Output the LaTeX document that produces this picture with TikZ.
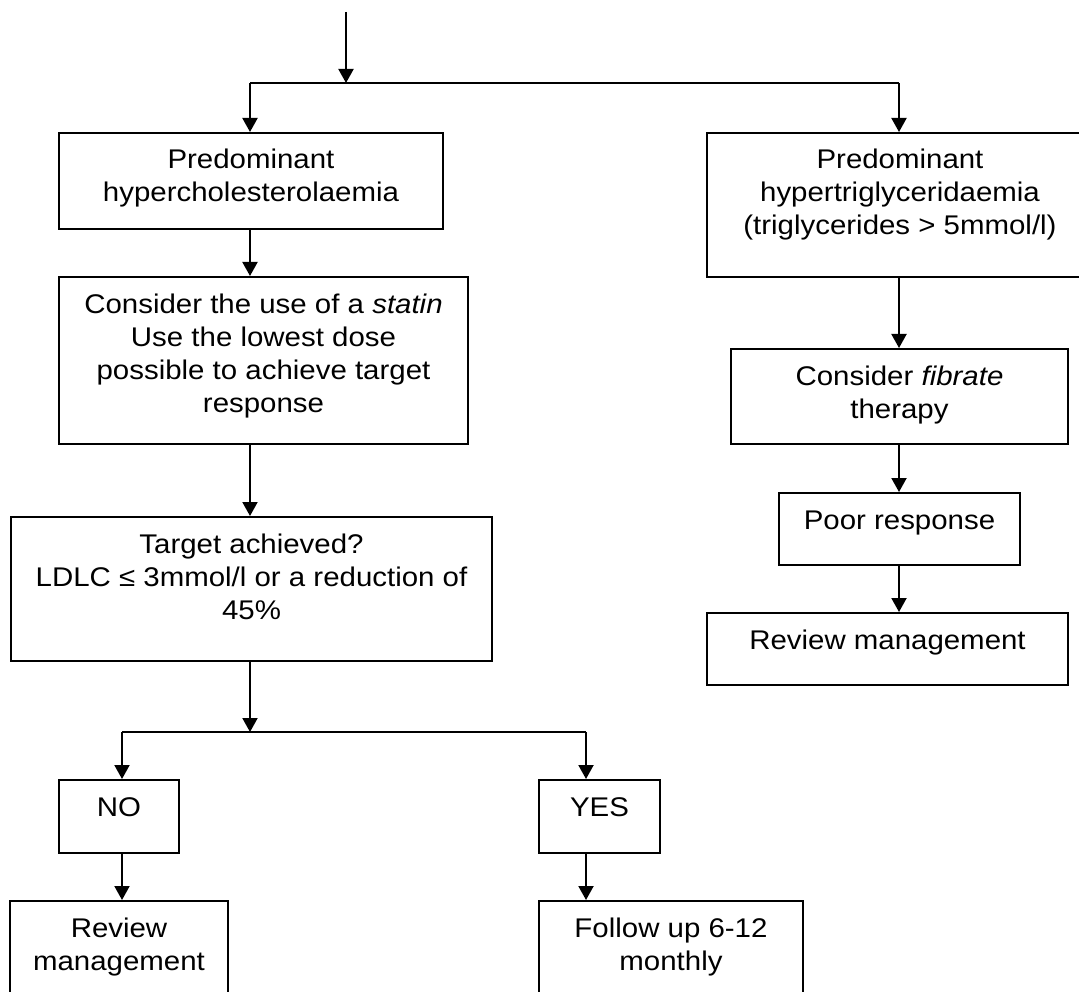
\documentclass[tikz,border=0pt]{standalone}
\usepackage{fontspec}
\setmainfont{Liberation Sans}[FakeStretch=1.09]
\usetikzlibrary{arrows.meta,calc}

\tikzset{
  box/.style={draw=black, line width=2pt, fill=white, inner sep=0pt, anchor=north west},
  % anchor=base sits on the last line of a multi-line label
  lbl/.style={inner sep=0pt, align=center, anchor=base,
              font=\fontsize{27}{33}\selectfont},
  flow/.style={line width=2pt, -{Triangle[length=14pt,width=15pt]}},
  link/.style={line width=2pt}
}

\begin{document}
\begin{tikzpicture}[x=1pt,y=-1pt]
\useasboundingbox (0,0) rectangle (1079,992);
\clip (0,0) rectangle (1079,992);

% left column
\node[box, minimum width=384, minimum height=96]  (b1) at (58,132) {};
\node[box, minimum width=409, minimum height=167] (b2) at (58,276) {};
\node[box, minimum width=481, minimum height=144] (b3) at (10,516) {};
\node[box, minimum width=120, minimum height=73]  (no) at (58,779) {};
\node[box, minimum width=121, minimum height=73]  (yes) at (538,779) {};
\node[box, minimum width=218, minimum height=110] (rl) at (9,900) {};
\node[box, minimum width=264, minimum height=110] (fu) at (538,900) {};

% right column
\node[box, minimum width=386, minimum height=144] (b4) at (706,132) {};
\node[box, minimum width=337, minimum height=95]  (b5) at (730,348) {};
\node[box, minimum width=241, minimum height=72]  (b6) at (778,492) {};
\node[box, minimum width=361, minimum height=72]  (b7) at (706,612) {};

% labels: last baseline = top + 37 + 33 per extra line
\node[lbl] (t1) at ($(b1.north)+(0,70)$) {Predominant\\hypercholesterolaemia};
\node[lbl] (t2) at ($(b2.north)+(0,136)$) {Consider the use of a \textit{statin}\\Use the lowest dose\\possible to achieve target\\response};
\node[lbl] (t3) at ($(b3.north)+(0,103)$) {Target achieved?\\LDLC ≤ 3mmol/l or a reduction of\\45\%};
\node[lbl] (tno) at ($(no.north)+(0,37)$) {NO};
\node[lbl] (tyes) at ($(yes.north)+(0,37)$) {YES};
\node[lbl] (trl) at ($(rl.north)+(0,70)$) {Review\\management};
\node[lbl] (tfu) at ($(fu.north)+(0,70)$) {Follow up 6-12\\monthly};
\node[lbl] (t4) at ($(b4.north)+(0,103)$) {Predominant\\hypertriglyceridaemia\\(triglycerides > 5mmol/l)};
\node[lbl] (t5) at ($(b5.north)+(0,70)$) {Consider \textit{fibrate}\\therapy};
\node[lbl] (t6) at ($(b6.north)+(0,37)$) {Poor response};
\node[lbl] (t7) at ($(b7.north)+(0,37)$) {Review management};

% junctions
\coordinate (start) at (346,12);
\coordinate (splitA) at (346,83);
\coordinate (jl) at (250,83);
\coordinate (jr) at (899,83);
\coordinate (splitB) at (250,732);
\coordinate (kl) at (122,732);
\coordinate (kr) at (586,732);

% connectors
\draw[flow] (start) -- (splitA);
\draw[link] (jl) -- (jr);
\draw[flow] (jl) -- (jl |- b1.north);
\draw[flow] (jr) -- (jr |- b4.north);
\draw[flow] (jl |- b1.south) -- (jl |- b2.north);
\draw[flow] (jl |- b2.south) -- (jl |- b3.north);
\draw[flow] (jl |- b3.south) -- (splitB);
\draw[link] (kl) -- (kr);
\draw[flow] (kl) -- (kl |- no.north);
\draw[flow] (kr) -- (kr |- yes.north);
\draw[flow] (kl |- no.south) -- (kl |- rl.north);
\draw[flow] (kr |- yes.south) -- (kr |- fu.north);
\draw[flow] (jr |- b4.south) -- (jr |- b5.north);
\draw[flow] (jr |- b5.south) -- (jr |- b6.north);
\draw[flow] (jr |- b6.south) -- (jr |- b7.north);
\end{tikzpicture}
\end{document}
